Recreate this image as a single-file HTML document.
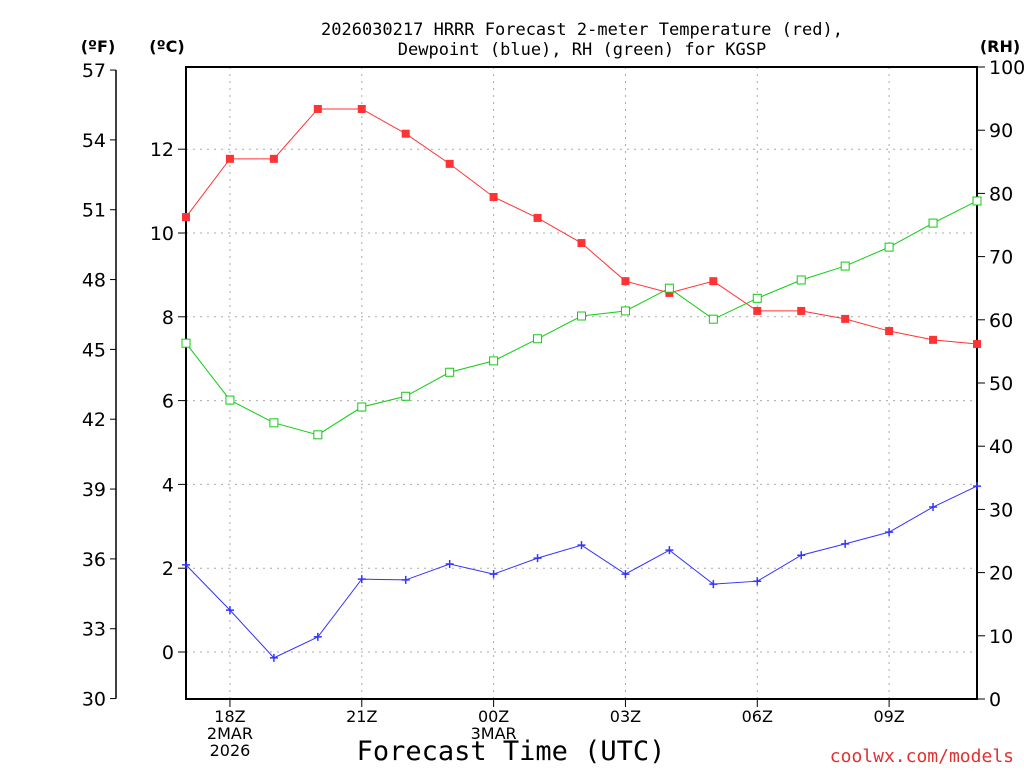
<!DOCTYPE html>
<html><head><meta charset="utf-8"><style>
body{margin:0;background:#fff;font-family:"DejaVu Sans","Liberation Sans",sans-serif}
svg text{font-family:"DejaVu Sans","Liberation Sans",sans-serif}
svg text.mono{font-family:"DejaVu Sans Mono","Liberation Mono",monospace}
</style></head><body>
<svg id="c" width="1024" height="768" xmlns="http://www.w3.org/2000/svg">
<text class="mono" x="582" y="35" font-size="17" text-anchor="middle">2026030217 HRRR Forecast 2-meter Temperature (red),</text>
<text class="mono" x="582" y="55" font-size="17" text-anchor="middle">Dewpoint (blue), RH (green) for KGSP</text>
<text x="98" y="52" font-size="16" font-weight="bold" text-anchor="middle">(ºF)</text>
<text x="167" y="52" font-size="16" font-weight="bold" text-anchor="middle">(ºC)</text>
<text x="1000" y="52" font-size="16" font-weight="bold" text-anchor="middle">(RH)</text>
<text class="mono" x="511" y="760" font-size="27" text-anchor="middle">Forecast Time (UTC)</text>
<text class="mono" x="1014" y="762" font-size="18" fill="#e03030" text-anchor="end">coolwx.com/models</text>
<g id="g"></g>
</svg>
<script>
const hours = ["17","18","19","20","21","22","23","00","01","02","03","04","05","06","07","08","09","10","11"];
const tempC = [10.38,11.77,11.77,12.96,12.96,12.37,11.65,10.86,10.36,9.76,8.85,8.57,8.85,8.14,8.14,7.95,7.66,7.45,7.35];
const dewC = [2.08,1.0,-0.14,0.36,1.74,1.72,2.1,1.86,2.24,2.55,1.86,2.43,1.62,1.69,2.31,2.58,2.86,3.46,3.96];
const rh = [56.3,47.3,43.7,41.8,46.2,47.9,51.7,53.5,57.0,60.6,61.4,65.0,60.1,63.4,66.3,68.5,71.5,75.3,78.8];
const cTicks = [0,2,4,6,8,10,12];
const fTicks = [30,33,36,39,42,45,48,51,54,57];
const rhTicks = [0,10,20,30,40,50,60,70,80,90,100];
const xLabels = [{i:1,t:["18Z","2MAR","2026"]},{i:4,t:["21Z"]},{i:7,t:["00Z","3MAR"]},{i:10,t:["03Z"]},{i:13,t:["06Z"]},{i:16,t:["09Z"]}];

const L=186,R=977,T=67,B=699;
const x=i=>L+i*(R-L)/(hours.length-1);
const yC=c=>652-c*41.9;
const yF=f=>yC((f-32)*5/9);
const yR=r=>B-r*(B-T)/100;
const g=document.getElementById('g');
function el(tag,a,name){const e=document.createElementNS('http://www.w3.org/2000/svg',tag);for(const k in a)e.setAttribute(k,a[k]);


g.appendChild(e);return e;}
function txt(s,a,name){const e=el('text',a,name);e.textContent=s;return e;}
cTicks.forEach(c=>{el('line',{x1:L,x2:R,y1:yC(c),y2:yC(c),stroke:'#aaa','stroke-dasharray':'2,5'},'grid-h');
el('line',{x1:L-8,x2:L,y1:yC(c),y2:yC(c),stroke:'#000'},'c-tick');
txt(c,{x:L-12,y:yC(c)+7,'font-size':19,'text-anchor':'end'},'c-tick-label');});
xLabels.forEach(o=>{const X=x(o.i);el('line',{x1:X,x2:X,y1:T,y2:B,stroke:'#aaa','stroke-dasharray':'2,5'},'grid-v');
el('line',{x1:X,x2:X,y1:B,y2:B+8,stroke:'#000'},'x-tick');
o.t.forEach((s,k)=>txt(s,{x:X,y:B+23+k*17,'font-size':16,'text-anchor':'middle'},'x-tick-label'));});
el('line',{x1:116,x2:116,y1:yF(57),y2:yF(30),stroke:'#000','stroke-width':1.5},'f-axis');
fTicks.forEach(f=>{el('line',{x1:110,x2:116,y1:yF(f),y2:yF(f),stroke:'#000'},'f-tick');
txt(f,{x:106,y:yF(f)+7,'font-size':19,'text-anchor':'end'},'f-tick-label');});
rhTicks.forEach(r=>{el('line',{x1:R,x2:R+8,y1:yR(r),y2:yR(r),stroke:'#000'},'rh-tick');
txt(r,{x:R+12,y:yR(r)+7,'font-size':19},'rh-tick-label');});
el('rect',{x:L,y:T,width:R-L,height:B-T,fill:'none',stroke:'#000','stroke-width':2},'plot-frame');
el('polyline',{points:tempC.map((v,i)=>x(i)+','+yC(v)).join(' '),fill:'none',stroke:'#f33','stroke-width':1},'temp-line');
tempC.forEach((v,i)=>el('rect',{x:x(i)-4,y:yC(v)-4,width:8,height:8,fill:'#f33'},'temp-point'));
el('polyline',{points:rh.map((v,i)=>x(i)+','+yR(v)).join(' '),fill:'none',stroke:'#1c1','stroke-width':1},'rh-line');
rh.forEach((v,i)=>el('rect',{x:x(i)-4,y:yR(v)-4,width:8,height:8,fill:'#fff',stroke:'#1c1'},'rh-point'));
el('polyline',{points:dewC.map((v,i)=>x(i)+','+yC(v)).join(' '),fill:'none',stroke:'#33f','stroke-width':1},'dew-line');
dewC.forEach((v,i)=>el('path',{d:`M${x(i)-4},${yC(v)}h8M${x(i)},${yC(v)-4}v8`,stroke:'#33f','stroke-width':1.5},'dew-point'));
</script>
</body></html>
